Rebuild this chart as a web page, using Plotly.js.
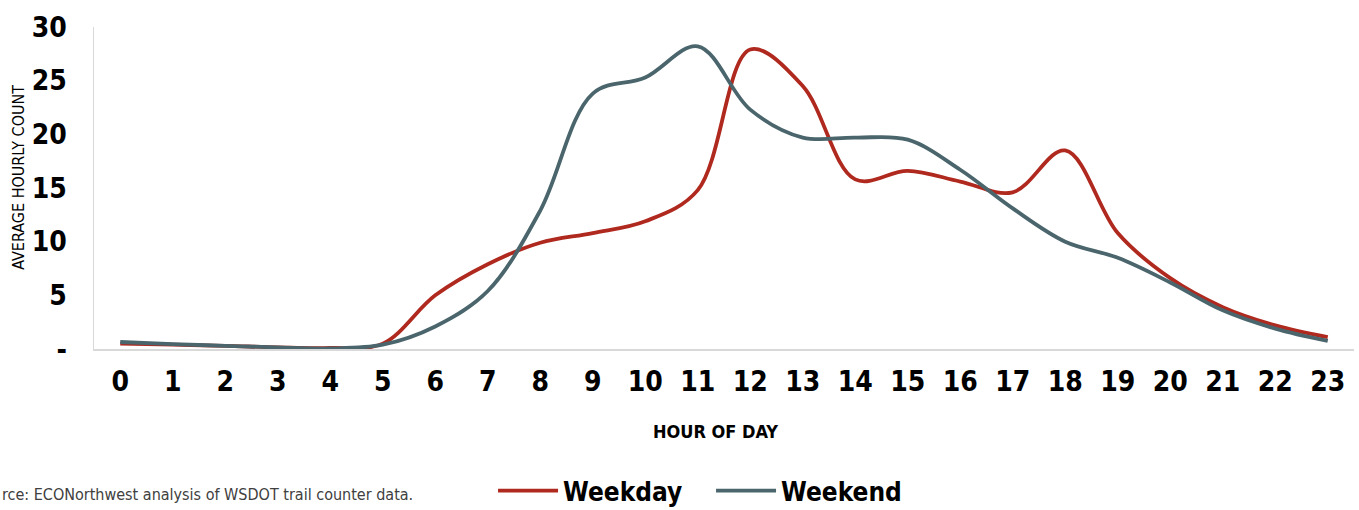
<!DOCTYPE html>
<html>
<head>
<meta charset="utf-8">
<script src="https://cdn.plot.ly/plotly-3.0.1.min.js"></script>
<style>
html,body{margin:0;padding:0;background:#fff;}
#chart{width:1359px;height:510px;}
svg text{font-stretch:condensed !important;}
</style>
</head>
<body>
<div id="chart"></div>
<script>
const hours = ["0","1","2","3","4","5","6","7","8","9","10","11","12","13","14","15","16","17","18","19","20","21","22","23"];
const weekday = [0.5, 0.4, 0.3, 0.15, 0.1, 0.5, 5.0, 7.9, 9.9, 10.8, 11.9, 14.8, 27.9, 24.5, 15.8, 16.6, 15.6, 14.6, 18.5, 10.8, 6.6, 3.9, 2.2, 1.1];
const weekend = [0.65, 0.45, 0.3, 0.15, 0.05, 0.4, 2.1, 5.4, 12.9, 23.8, 25.3, 28.2, 22.3, 19.7, 19.7, 19.5, 16.7, 13.1, 10.0, 8.5, 6.2, 3.6, 1.9, 0.75];
const yTickVals = [0, 5, 10, 15, 20, 25, 30];
const yTickText = ["-", "5", "10", "15", "20", "25", "30"];
const seriesNames = ["Weekday", "Weekend"];
const colors = ["#B0291F", "#4A656C"];

const FONT = "'DejaVu Sans', sans-serif";

const traces = [
  {x: hours, y: weekday, name: seriesNames[0], type: "scatter", mode: "lines",
   line: {color: colors[0], width: 3.8, shape: "spline", smoothing: 1}},
  {x: hours, y: weekend, name: seriesNames[1], type: "scatter", mode: "lines",
   line: {color: colors[1], width: 3.8, shape: "spline", smoothing: 1}}
];

const layout = {
  width: 1359, height: 510,
  margin: {l: 94, r: 5, t: 27, b: 161, autoexpand: false},
  paper_bgcolor: "#ffffff", plot_bgcolor: "#ffffff",
  font: {family: FONT, color: "#000000"},
  showlegend: true,
  legend: {
    orientation: "h", x: 0.3167, xanchor: "left", y: -0.44, yanchor: "middle",
    font: {family: FONT, size: 26, color: "#000000", weight: "bold"},
    itemwidth: 60, entrywidth: 143, entrywidthmode: "pixels",
    tracegroupgap: 0, bgcolor: "rgba(0,0,0,0)"
  },
  xaxis: {
    type: "category", range: [-0.5, 23.5], automargin: false,
    showgrid: false, zeroline: false,
    showline: true, linecolor: "#D9D9D9", linewidth: 1.5,
    ticks: "", ticklabelstandoff: 7,
    tickfont: {family: FONT, size: 28, color: "#000000", weight: "bold"},
    fixedrange: true
  },
  yaxis: {
    range: [0, 30], tickvals: yTickVals, ticktext: yTickText, automargin: false,
    showgrid: false, zeroline: false,
    showline: true, linecolor: "#D9D9D9", linewidth: 1.5,
    ticks: "", ticklabelstandoff: 20,
    tickfont: {family: FONT, size: 28, color: "#000000", weight: "bold"},
    fixedrange: true
  },
  annotations: [
    {text: "AVERAGE HOURLY COUNT", xref: "paper", yref: "paper",
     x: -0.0605, y: 0.534, xanchor: "center", yanchor: "middle", textangle: -90,
     showarrow: false, font: {family: FONT, size: 16, color: "#000000"}},
    {text: "<b>HOUR OF DAY</b>", xref: "paper", yref: "paper",
     x: 0.4935, y: -0.255, xanchor: "center", yanchor: "middle",
     showarrow: false, font: {family: FONT, size: 18, color: "#000000"}},
    {text: "rce: ECONorthwest analysis of WSDOT trail counter data.", xref: "paper", yref: "paper",
     x: -0.0746, y: -0.453, xanchor: "left", yanchor: "middle",
     showarrow: false, font: {family: FONT, size: 16, color: "#404040"}}
  ]
};

Plotly.newPlot("chart", traces, layout, {displayModeBar: false, staticPlot: true});
</script>
</body>
</html>
